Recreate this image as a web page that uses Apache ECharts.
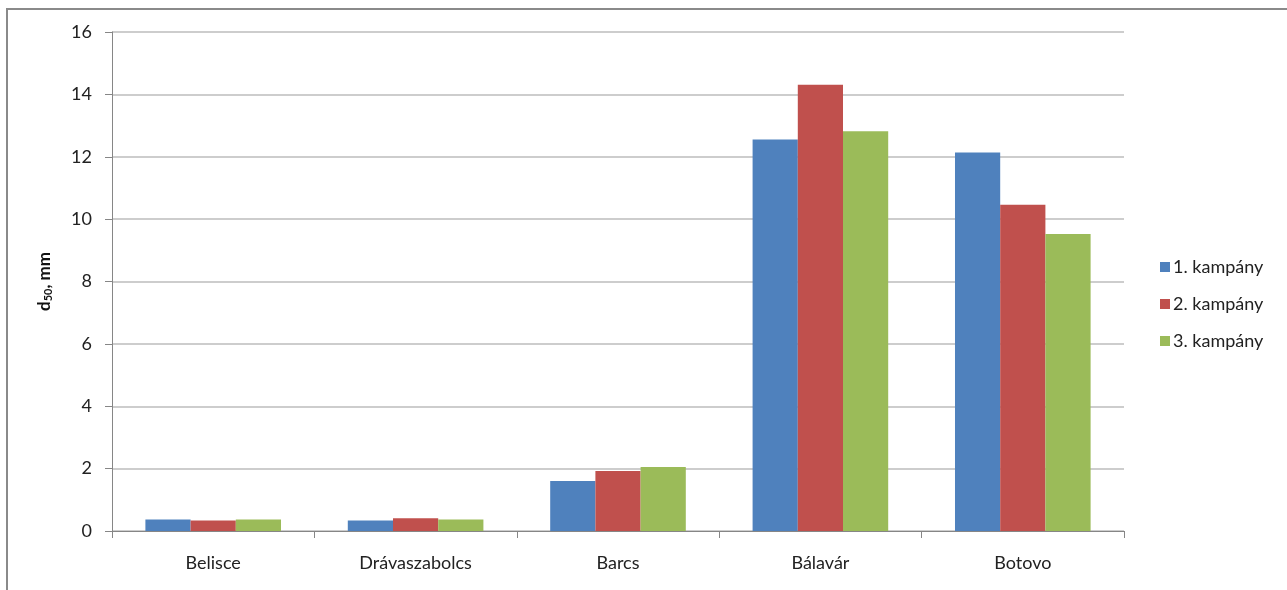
<!DOCTYPE html>
<html>
<head>
<meta charset="utf-8">
<script src="https://cdn.jsdelivr.net/npm/echarts@6/dist/echarts.min.js"></script>
<style>
  html, body { margin: 0; padding: 0; background: #fff; }
  #chart { width: 1287px; height: 590px; }
</style>
</head>
<body>
<div id="chart"></div>
<script>
// Median grain size (d50) per sampling site and campaign
const sites = ['Belisce', 'Drávaszabolcs', 'Barcs', 'Bálavár', 'Botovo'];
const campaign1 = [0.37, 0.34, 1.60, 12.55, 12.14];
const campaign2 = [0.34, 0.41, 1.92, 14.31, 10.46];
const campaign3 = [0.37, 0.37, 2.05, 12.82, 9.52];
const seriesNames = ['1. kampány', '2. kampány', '3. kampány'];
const yTicks = [0, 2, 4, 6, 8, 10, 12, 14, 16];

const colors = ['#4F81BD', '#C0504D', '#9BBB59'];
const font = 'Lato, "Open Sans", sans-serif';

const chart = echarts.init(document.getElementById('chart'), null, { renderer: 'canvas' });

const makeSeries = (name, data, i) => ({
  name: name,
  type: 'bar',
  data: data,
  barGap: '0%',
  barCategoryGap: '33%',
  itemStyle: { color: colors[i] },
  emphasis: { disabled: true }
});

chart.setOption({
  animation: false,
  color: colors,
  graphic: [{
    type: 'rect',
    shape: { x: 7, y: 9, width: 1400, height: 700 },
    style: { fill: 'none', stroke: '#8a8a8a', lineWidth: 2 },
    silent: true
  }],
  grid: { left: 112, right: 163, top: 32, bottom: 59 },
  legend: {
    orient: 'vertical',
    left: 1155,
    top: 253,
    itemWidth: 10,
    itemHeight: 10,
    itemGap: 19,
    icon: 'rect',
    data: seriesNames,
    textStyle: { fontFamily: font, fontSize: 18, lineHeight: 18, color: '#222', padding: [0, 0, 0, -2] }
  },
  xAxis: {
    type: 'category',
    data: sites,
    axisLine: { lineStyle: { color: '#868686', width: 1 } },
    axisTick: { show: true, length: 7, alignWithLabel: false, lineStyle: { color: '#868686' } },
    axisLabel: { fontFamily: font, fontSize: 18, color: '#222', margin: 23 },
    splitLine: { show: false }
  },
  yAxis: {
    type: 'value',
    min: yTicks[0],
    max: yTicks[yTicks.length - 1],
    interval: 2,
    name: '{b|d}{s|50}{b|, mm}',
    nameLocation: 'middle',
    nameRotate: 90,
    nameGap: 58,
    nameTextStyle: {
      rich: {
        b: { fontFamily: font, fontSize: 17, fontWeight: 'bold', color: '#111' },
        s: { fontFamily: font, fontSize: 11, fontWeight: 'bold', color: '#111', padding: [7, 0, 0, 0] }
      }
    },
    axisLine: { show: true, lineStyle: { color: '#868686', width: 1 } },
    axisTick: { show: true, inside: false, length: 7, lineStyle: { color: '#868686' } },
    axisLabel: { fontFamily: font, fontSize: 18, color: '#222', margin: 20 },
    splitLine: { show: true, lineStyle: { color: '#bdbdbd', width: 1.5 } }
  },
  series: [
    makeSeries(seriesNames[0], campaign1, 0),
    makeSeries(seriesNames[1], campaign2, 1),
    makeSeries(seriesNames[2], campaign3, 2)
  ]
});
</script>
</body>
</html>
